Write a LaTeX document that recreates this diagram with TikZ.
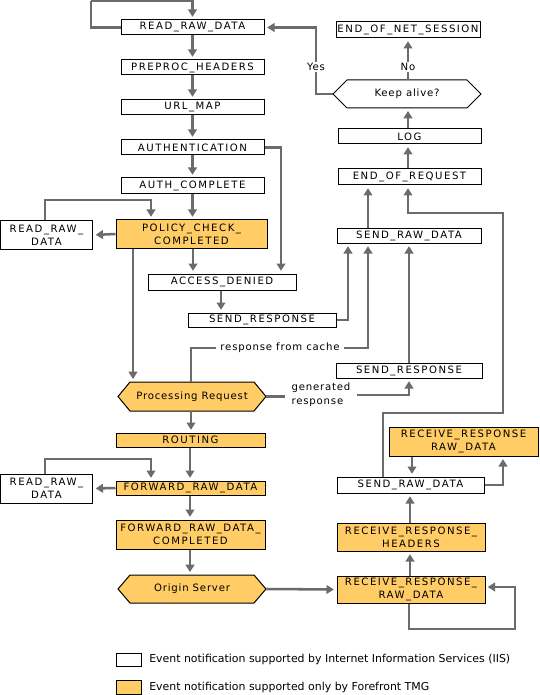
\documentclass[tikz,border=0pt]{standalone}
\usepackage{fontspec}
\setmainfont{DejaVu Sans}
\newfontfamily\boxfont[LetterSpace=15]{DejaVu Sans}
\newfontfamily\lblfont[LetterSpace=8]{DejaVu Sans}
\usetikzlibrary{arrows.meta}
\definecolor{tmg}{HTML}{FFCC66}
\definecolor{conn}{HTML}{6B6B6B}
\begin{document}
\begin{tikzpicture}[x=0.75pt,y=-0.75pt,
  sz/.style 2 args={minimum width=#1*0.75pt,minimum height=#2*0.75pt},
  ev/.style={draw=black,line width=0.75pt,fill=white,inner sep=0pt,font=\boxfont\fontsize{7.6}{9.8}\selectfont,align=center},
  tmgev/.style={ev,fill=tmg},
  hexnode/.style={inner sep=0pt,font=\lblfont\fontsize{7.6}{9.8}\selectfont},
  lbl/.style={inner xsep=3.5pt,inner ysep=1pt,font=\lblfont\fontsize{7.6}{10.5}\selectfont},
  legtxt/.style={inner sep=0pt,anchor=west,font=\fontsize{8.2}{10}\selectfont},
  hexsty/.style={draw=black,line width=0.75pt},
  ar/.style={draw=conn,line width=1.9pt,-{Triangle[length=5.5pt,width=6.5pt]},shorten >=2pt},
  ln/.style={draw=conn,line width=1.9pt},
]
\useasboundingbox (0,0) rectangle (539,695);

% hexagons
\draw[hexsty,fill=tmg] (118,396.5) -- (130,382) -- (254,382) -- (266,396.5) -- (254,411) -- (130,411) -- cycle;
\draw[hexsty,fill=tmg] (118,589) -- (130,575) -- (254,575) -- (266,589) -- (254,603) -- (130,603) -- cycle;
\draw[hexsty,fill=white] (333,94) -- (347,80) -- (467,80) -- (481,94) -- (467,108) -- (347,108) -- cycle;

% left/main column
\node[ev,sz={143}{15}] (rrd1) at (192.5,27.5) {READ\_RAW\_DATA};
\node[ev,sz={143}{15}] (pre) at (192.5,67.5) {PREPROC\_HEADERS};
\node[ev,sz={143}{15}] (url) at (192.5,107.5) {URL\_MAP};
\node[ev,sz={143}{15}] (auth) at (192.5,147.5) {AUTHENTICATION};
\node[ev,sz={143}{16}] (authc) at (192.5,186) {AUTH\_COMPLETE};
\node[tmgev,sz={151}{28}] (policy) at (191.5,234) {POLICY\_CHECK\_\\COMPLETED};
\node[ev,sz={92}{28}] (rrdL1) at (46.5,235) {READ\_RAW\_\\DATA};
\node[ev,sz={148}{16}] (acc) at (222,282) {ACCESS\_DENIED};
\node[ev,sz={148}{14}] (sresp1) at (262,320) {SEND\_RESPONSE};
\node[hexnode,sz={148}{29}] (prq) at (192,396.5) {Processing Request};
\node[tmgev,sz={149}{14}] (routing) at (190.5,440) {ROUTING};
\node[tmgev,sz={149}{14}] (fwd) at (190.5,488) {FORWARD\_RAW\_DATA};
\node[tmgev,sz={149}{29}] (fwdc) at (190.5,534.5) {FORWARD\_RAW\_DATA\_\\COMPLETED};
\node[ev,sz={92}{29}] (rrdL2) at (46.5,488.5) {READ\_RAW\_\\DATA};
\node[hexnode,sz={148}{28}] (origin) at (192,589) {Origin Server};

% right column
\node[ev,sz={144}{16}] (eons) at (408,30) {END\_OF\_NET\_SESSION};
\node[hexnode,sz={148}{28}] (keep) at (407,94) {Keep alive?};
\node[ev,sz={143}{15}] (log) at (409.5,136.5) {LOG};
\node[ev,sz={143}{16}] (eor) at (409.5,177) {END\_OF\_REQUEST};
\node[ev,sz={144}{15}] (srd1) at (409,235.5) {SEND\_RAW\_DATA};
\node[ev,sz={146}{15}] (sresp2) at (409,370.5) {SEND\_RESPONSE};
\node[tmgev,sz={149}{29}] (rrr1) at (463.5,441.5) {RECEIVE\_RESPONSE\\RAW\_DATA};
\node[ev,sz={147}{16}] (srd2) at (410.5,485) {SEND\_RAW\_DATA};
\node[tmgev,sz={148}{28}] (rrh) at (411,537) {RECEIVE\_RESPONSE\_\\HEADERS};
\node[tmgev,sz={148}{27}] (rrr2) at (411,589.5) {RECEIVE\_RESPONSE\_\\RAW\_DATA};

% labels
\node[lbl] (yes) at (316,67) {Yes};
\node[lbl] (no) at (408,67) {No};
\node[lbl] (cache) at (280,348) {response from cache};
\node[lbl,align=left,inner xsep=5pt] (gen) at (321,395) {generated\\response};

% connectors main column
\draw[ln] (rrd1.west) -- (91,27.5) -- (91,1);
\draw[ar] (91,1) -- (192.5,1) -- (rrd1.north);
\draw[ar] (rrd1) -- (pre);
\draw[ar] (pre) -- (url);
\draw[ar] (url) -- (auth);
\draw[ar] (auth) -- (authc);
\draw[ar] (authc.south) -- (192.5,0 |- policy.north);
\draw[ar] (policy.west) -- (rrdL1.east);
\draw[ar] (45,0 |- rrdL1.north) -- (45,200) -- (151,200) -- (151,0 |- policy.north);
\draw[ar] (auth.east) -- (281,147.5) -- (281,0 |- acc.north);
\draw[ar] (193,0 |- policy.south) -- (193,0 |- acc.north);
\draw[ar] (133,0 |- policy.south) -- (133,0 |- prq.north);
\draw[ar] (221,0 |- acc.south) -- (221,0 |- sresp1.north);
\draw[ar] (sresp1.east) -- (348,0 |- sresp1.east) -- (348,0 |- srd1.south);
\draw[ln] (191,0 |- prq.north) -- (191,0 |- cache.west) -- (cache.west);
\draw[ar] (cache.east) -- (368,0 |- cache.east) -- (368,0 |- srd1.south);
\draw[ln] (prq.east) -- (prq.east -| gen.west);
\draw[ar] (gen.east) -- (409,0 |- gen.east) -- (409,0 |- sresp2.south);
\draw[ar] (409,0 |- sresp2.north) -- (409,0 |- srd1.south);
\draw[ar] (368,0 |- srd1.north) -- (368,0 |- eor.south);
\draw[ar] (383,0 |- srd2.north) -- (383,413) -- (503,413) -- (503,213) -- (408,213) -- (408,0 |- eor.south);
\draw[ar] (408,0 |- eor.north) -- (408,0 |- log.south);
\draw[ar] (408,0 |- log.north) -- (408,0 |- keep.south);
\draw[ln] (408,0 |- keep.north) -- (no.south);
\draw[ar] (no.north) -- (408,0 |- eons.south);
\draw[ln] (keep.west) -- (316,94) -- (yes.south);
\draw[ar] (yes.north) -- (316,27.5) -- (rrd1.east);
\draw[ar] (191,0 |- prq.south) -- (191,0 |- routing.north);
\draw[ar] (190,0 |- routing.south) -- (190,0 |- fwd.north);
\draw[ar] (190,0 |- fwd.south) -- (190,0 |- fwdc.north);
\draw[ar] (190,0 |- fwdc.south) -- (190,0 |- origin.north);
\draw[ar] (fwd.west) -- (rrdL2.east);
\draw[ar] (45,0 |- rrdL2.north) -- (45,459) -- (151,459) -- (151,0 |- fwd.north);
\draw[ar] (origin.east) -- (rrr2.west);
\draw[ar] (410,0 |- rrr2.north) -- (410,0 |- rrh.south);
\draw[ar] (410,0 |- rrh.north) -- (410,0 |- srd2.south);
\draw[ar] (412,0 |- rrr1.south) -- (412,0 |- srd2.north);
\draw[ar] (srd2.east) -- (503,0 |- srd2.east) -- (503,0 |- rrr1.south);
\draw[ar] (409,0 |- rrr2.south) -- (409,629) -- (515,629) -- (515,587) -- (485,587);

% legend
\node[ev,sz={25}{13}] (legw) at (128.5,659.5) {};
\node[tmgev,sz={25}{14}] (lego) at (128.5,687) {};
\node[legtxt] (legwt) at (149,659.5) {Event notification supported by Internet Information Services (IIS)};
\node[legtxt] (legot) at (149,687) {Event notification supported only by Forefront TMG};
\end{tikzpicture}
\end{document}
